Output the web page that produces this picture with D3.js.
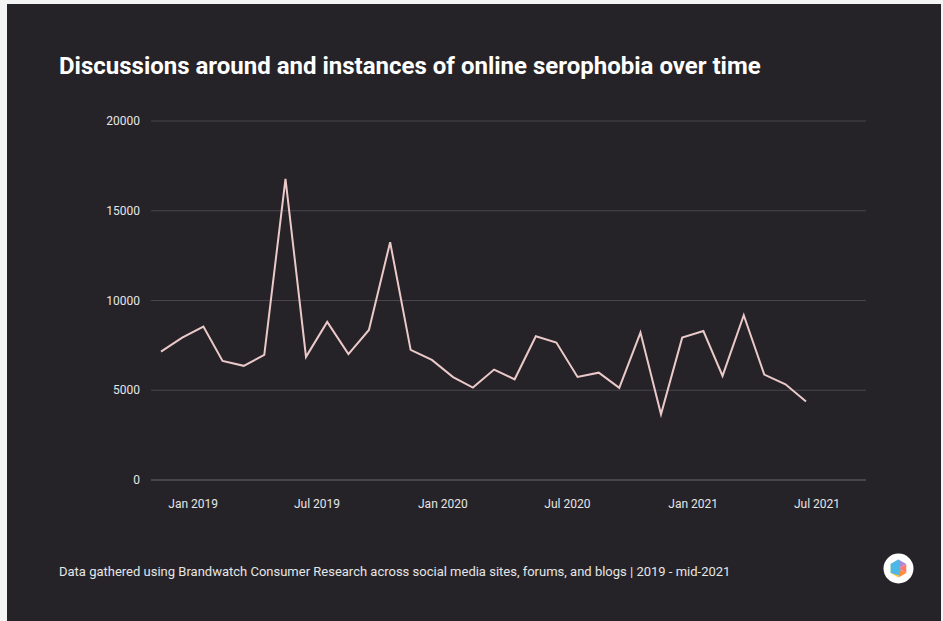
<!DOCTYPE html>
<html><head><meta charset="utf-8">
<script src="https://cdn.jsdelivr.net/npm/d3@7"></script>
<style>
html,body{margin:0;padding:0;background:#f4f4f4;}
svg{display:block;font-family:Roboto,"Noto Sans",sans-serif;}
</style></head><body>
<svg id="c" width="943" height="621"></svg>
<script>
const months = ["2018-12","2019-01","2019-02","2019-03","2019-04","2019-05","2019-06","2019-07","2019-08","2019-09","2019-10","2019-11","2019-12",
"2020-01","2020-02","2020-03","2020-04","2020-05","2020-06","2020-07","2020-08","2020-09","2020-10","2020-11","2020-12",
"2021-01","2021-02","2021-03","2021-04","2021-05","2021-06","2021-07"];
const mentions = [7150,7930,8550,6630,6360,6970,16780,6860,8810,7010,8360,13250,7250,6690,5730,5150,6150,5610,8010,7660,5740,5980,5130,8210,3660,7930,8300,5800,9180,5870,5330,4370];
const yTicks = [0,5000,10000,15000,20000];
const xTickDates = ["2019-01","2019-07","2020-01","2020-07","2021-01","2021-07"];
const titleText = "Discussions around and instances of online serophobia over time";
const footerText = "Data gathered using Brandwatch Consumer Research across social media sites, forums, and blogs | 2019 - mid-2021";

const parse = d3.timeParse("%Y-%m");
const fmt = d3.timeFormat("%b %Y");
const data = months.map((m,i)=>({date:parse(m), value:mentions[i]}));

const svg = d3.select("#c");
svg.append("rect").attr("x",7).attr("y",4).attr("width",934).attr("height",617).attr("fill","#252328");

const x = d3.scaleTime().domain([data[0].date, data[data.length-1].date]).range([161,806]);
const y = d3.scaleLinear().domain([0,20000]).range([480,121]);

svg.append("text").attr("x",59).attr("y",74).attr("fill","#ffffff")
  .attr("font-size",24).attr("font-weight",700).text(titleText);

const gy = svg.append("g");
gy.selectAll("line").data(yTicks).join("line")
  .attr("x1",151).attr("x2",866).attr("y1",d=>y(d)).attr("y2",d=>y(d))
  .attr("stroke",d=>d===0?"#55535a":"#48464c").attr("stroke-width",d=>d===0?1.5:1);
gy.selectAll("text").data(yTicks).join("text")
  .attr("x",140).attr("y",d=>y(d)).attr("dy","0.35em").attr("text-anchor","end")
  .attr("fill","#e6e6e6").attr("font-size",12).text(d=>d);

const gx = svg.append("g");
gx.selectAll("text").data(xTickDates.map(parse)).join("text")
  .attr("x",d=>x(d)+11).attr("y",508).attr("text-anchor","middle")
  .attr("fill","#e6e6e6").attr("font-size",12).text(d=>fmt(d));

const line = d3.line().x(d=>x(d.date)).y(d=>y(d.value));
svg.append("path").datum(data).attr("d",line).attr("fill","none")
  .attr("stroke","#ecc9c9").attr("stroke-width",2).attr("stroke-linejoin","miter");

svg.append("text").attr("x",59).attr("y",576).attr("fill","#e6e6e6")
  .attr("font-size",13).text(footerText);

// logo
const lg = svg.append("g").attr("transform","translate(898.5,568.5)");
lg.append("circle").attr("r",15).attr("fill","#ffffff");
const hexPts = d3.range(6).map(i=>{const a=Math.PI/3*i - Math.PI/2; return [9*Math.cos(a),9*Math.sin(a)];});
const cols = ["#a98bd6","#ff7a6b","#ff8c3a","#ffc42a","#8ccf4d","#4db8e8"];
hexPts.forEach((p,i)=>{
  const q = hexPts[(i+1)%6];
  lg.append("path").attr("d",`M0,0L${p[0]},${p[1]}L${q[0]},${q[1]}Z`).attr("fill",cols[i]);
});
lg.append("path").attr("d",`M${hexPts[4][0]},${hexPts[4][1]}L${hexPts[5][0]},${hexPts[5][1]}L${hexPts[0][0]},${hexPts[0][1]}L2,1L${hexPts[3][0]+1},${hexPts[3][1]-2}Z`).attr("fill","#4db8e8");
</script>
</body></html>
